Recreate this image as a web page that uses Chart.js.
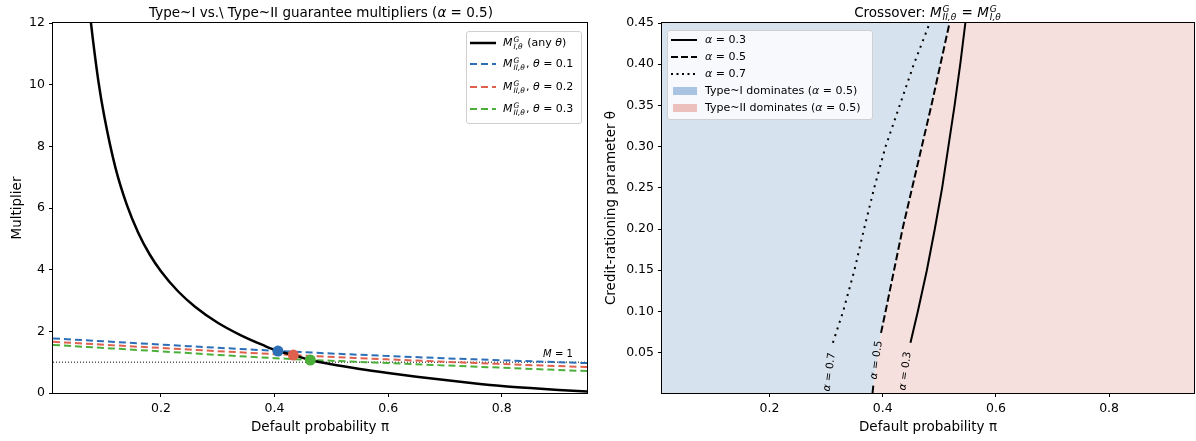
<!DOCTYPE html>
<html>
<head>
<meta charset="utf-8">
<script src="https://cdn.jsdelivr.net/npm/chart.js@4.4.1/dist/chart.umd.min.js"></script>
<style>
  html, body { margin: 0; padding: 0; background: #fff; }
  body { width: 1196px; height: 441px; position: relative; overflow: hidden;
         font-family: 'DejaVu Sans', sans-serif; color: #000; }
  .panel { position: absolute; top: 0; width: 598px; height: 441px; }
  .title { position: absolute; top: 4px; font-size: 13.5px; line-height: 16px; white-space: nowrap;
           transform: translateX(-50%); }
  .legend { position: absolute; box-sizing: border-box; background: rgba(255,255,255,0.8);
            border: 1px solid #d0d0d0; border-radius: 3px; font-size: 11px; }
  .row { position: absolute; left: 0; right: 0; height: 18px; }
  .row svg { position: absolute; left: 2px; top: 0; }
  .row .txt { position: absolute; top: 0; height: 18px; line-height: 18px; white-space: nowrap; }
  .ss { display: inline-flex; flex-direction: column; font-size: 7.5px; line-height: 7px;
        vertical-align: 4px; margin-left: 1px; margin-right: 1px; }
  .title .ss { font-size: 9px; line-height: 8px; vertical-align: 5px; }
  .ss span { font-style: italic; }
  .patch { position: absolute; left: 5px; top: 5px; width: 24px; height: 8px; }
</style>
</head>
<body>

<div class="panel" style="left:0"><canvas id="left" width="598" height="441"></canvas></div>
<div class="panel" style="left:598px"><canvas id="right" width="598" height="441"></canvas></div>

<div class="title" style="left:321px">Type~I vs.\ Type~II guarantee multipliers (<i>α</i> = 0.5)</div>
<div class="title" style="left:928px">Crossover: <i>M</i><span class="ss"><span>G</span><span>II,θ</span></span> = <i>M</i><span class="ss"><span>G</span><span>I,θ</span></span></div>

<div class="legend" style="left:466px; top:31px; width:116px; height:93px">
  <div class="row" style="top:2px">
    <svg width="30" height="18"><line x1="1" y1="9" x2="27" y2="9" stroke="#000" stroke-width="2.5"/></svg>
    <span class="txt" style="left:36px"><i>M</i><span class="ss"><span>G</span><span>I,θ</span></span> (any <i>θ</i>)</span>
  </div>
  <div class="row" style="top:23px">
    <svg width="30" height="18"><line x1="1" y1="9" x2="27" y2="9" stroke="#2c6fb7" stroke-width="2" stroke-dasharray="7,4"/></svg>
    <span class="txt" style="left:36px"><i>M</i><span class="ss"><span>G</span><span>II,θ</span></span>, <i>θ</i> = 0.1</span>
  </div>
  <div class="row" style="top:46px">
    <svg width="30" height="18"><line x1="1" y1="9" x2="27" y2="9" stroke="#e0604e" stroke-width="2" stroke-dasharray="7,4"/></svg>
    <span class="txt" style="left:36px"><i>M</i><span class="ss"><span>G</span><span>II,θ</span></span>, <i>θ</i> = 0.2</span>
  </div>
  <div class="row" style="top:68px">
    <svg width="30" height="18"><line x1="1" y1="9" x2="27" y2="9" stroke="#4caf3a" stroke-width="2" stroke-dasharray="7,4"/></svg>
    <span class="txt" style="left:36px"><i>M</i><span class="ss"><span>G</span><span>II,θ</span></span>, <i>θ</i> = 0.3</span>
  </div>
</div>

<div class="legend" style="left:667px; top:30px; width:206px; height:90px">
  <div class="row" style="top:0px">
    <svg width="30" height="18"><line x1="1" y1="9" x2="27" y2="9" stroke="#000" stroke-width="2"/></svg>
    <span class="txt" style="left:37px"><i>α</i> = 0.3</span>
  </div>
  <div class="row" style="top:17px">
    <svg width="30" height="18"><line x1="1" y1="9" x2="27" y2="9" stroke="#000" stroke-width="2" stroke-dasharray="7,3"/></svg>
    <span class="txt" style="left:37px"><i>α</i> = 0.5</span>
  </div>
  <div class="row" style="top:34px">
    <svg width="30" height="18"><line x1="1" y1="9" x2="27" y2="9" stroke="#000" stroke-width="2" stroke-dasharray="2,3.5"/></svg>
    <span class="txt" style="left:37px"><i>α</i> = 0.7</span>
  </div>
  <div class="row" style="top:51px">
    <div class="patch" style="background:#a9c4e2"></div>
    <span class="txt" style="left:37px">Type~I dominates (<i>α</i> = 0.5)</span>
  </div>
  <div class="row" style="top:68px">
    <div class="patch" style="background:#ecc0bd"></div>
    <span class="txt" style="left:37px">Type~II dominates (<i>α</i> = 0.5)</span>
  </div>
</div>

<script>
// ---------- left panel data ----------
const piTypeI = [0.075, 0.08, 0.09, 0.10, 0.12, 0.14, 0.16, 0.18, 0.20, 0.23, 0.26, 0.30, 0.34,
                 0.38, 0.406, 0.433, 0.463, 0.50, 0.55, 0.60, 0.65, 0.70, 0.75, 0.80, 0.85, 0.90, 0.95];
const mTypeI = [12.3, 11.5, 10.1, 9.0, 7.3, 6.1, 5.2, 4.5, 3.95, 3.3, 2.8, 2.28, 1.88,
                1.55, 1.36, 1.23, 1.07, 0.93, 0.78, 0.65, 0.53, 0.42, 0.32, 0.23, 0.16, 0.10, 0.05];
const piTypeII = [0.01, 0.2, 0.4, 0.6, 0.8, 0.95];
const mTheta01 = [1.77, 1.57, 1.37, 1.20, 1.06, 0.97];
const mTheta02 = [1.66, 1.46, 1.26, 1.09, 0.94, 0.84];
const mTheta03 = [1.56, 1.35, 1.13, 0.97, 0.82, 0.71];
const crossPi = [0.406, 0.433, 0.463];
const crossM  = [1.36, 1.23, 1.07];
const refPi = [0.01, 0.95];
const refM  = [1, 1];
const leftXTicks = [0.2, 0.4, 0.6, 0.8];
const leftYTicks = [0, 2, 4, 6, 8, 10, 12];

// ---------- right panel data ----------
const thetaA03 = [0.062, 0.10, 0.15, 0.20, 0.25, 0.30, 0.35, 0.40, 0.45];
const piA03    = [0.449, 0.462, 0.478, 0.492, 0.505, 0.516, 0.527, 0.537, 0.546];
const thetaA05 = [0.001, 0.014, null, 0.074, 0.10, 0.15, 0.20, 0.25, 0.30, 0.35, 0.40, 0.45];
const piA05    = [0.382, 0.384, null, 0.397, 0.405, 0.420, 0.435, 0.452, 0.469, 0.486, 0.502, 0.518];
const thetaA07 = [0.062, 0.10, 0.15, 0.20, 0.25, 0.30, 0.35, 0.40, 0.45];
const piA07    = [0.312, 0.330, 0.350, 0.367, 0.385, 0.405, 0.430, 0.455, 0.483];
const rightXTicks = [0.2, 0.4, 0.6, 0.8];
const rightYTicks = [0.05, 0.10, 0.15, 0.20, 0.25, 0.30, 0.35, 0.40, 0.45];
const contourLabels = ['0.7', '0.5', '0.3'];

const FONT = "'DejaVu Sans', sans-serif";
const pts = (xs, ys) => xs.map((x, i) => ({ x: x, y: ys[i] }));

// spine box around the plotting area
const framePlugin = {
  id: 'frame',
  afterDatasetsDraw(chart) {
    const { ctx, chartArea: a } = chart;
    ctx.save();
    ctx.strokeStyle = '#000';
    ctx.lineWidth = 1;
    ctx.strokeRect(Math.round(a.left) - 0.5, Math.round(a.top) - 0.5,
                   Math.round(a.right - a.left) + 1, Math.round(a.bottom - a.top) + 1);
    ctx.restore();
  }
};

// draws "α = v" / "M = 1" with an italic symbol
function mathText(ctx, sym, rest, size) {
  ctx.font = 'italic ' + size + 'px ' + FONT;
  const w1 = ctx.measureText(sym).width;
  ctx.font = size + 'px ' + FONT;
  const w2 = ctx.measureText(rest).width;
  return { w: w1 + w2, draw(x, y) {
    ctx.font = 'italic ' + size + 'px ' + FONT;
    ctx.fillText(sym, x, y);
    ctx.font = size + 'px ' + FONT;
    ctx.fillText(rest, x + w1, y);
  } };
}

const refLabelPlugin = {
  id: 'refLabel',
  afterDatasetsDraw(chart) {
    const { ctx, scales: { x, y } } = chart;
    ctx.save();
    ctx.fillStyle = '#000';
    ctx.textBaseline = 'alphabetic';
    ctx.textAlign = 'left';
    const t = mathText(ctx, 'M', ' = 1', 10);
    t.draw(x.getPixelForValue(0.925) - t.w, y.getPixelForValue(refM[0]) - 5);
    ctx.restore();
  }
};

const contourLabelPlugin = {
  id: 'contourLabel',
  afterDatasetsDraw(chart) {
    const { ctx, scales: { x, y } } = chart;
    const at = [[0.306, 0.0265], [0.389, 0.041], [0.440, 0.0277]];
    ctx.save();
    ctx.fillStyle = '#000';
    ctx.textBaseline = 'middle';
    ctx.textAlign = 'left';
    contourLabels.forEach((v, i) => {
      ctx.save();
      ctx.translate(x.getPixelForValue(at[i][0]), y.getPixelForValue(at[i][1]));
      ctx.rotate(-82 * Math.PI / 180);
      const t = mathText(ctx, 'α', ' = ' + v, 10.5);
      t.draw(-t.w / 2, 0);
      ctx.restore();
    });
    ctx.restore();
  }
};

function axisX(ticks, title, tickFmt) {
  return {
    type: 'linear', min: 0.01, max: 0.95,
    afterBuildTicks: s => { s.ticks = ticks.map(v => ({ value: v })); },
    afterFit: s => { s.height = 48; },
    grid: { display: true, drawOnChartArea: false, drawTicks: true, tickLength: 4, color: '#000' },
    border: { display: false },
    ticks: { color: '#000', padding: 4, maxRotation: 0, font: { family: FONT, size: 12.5 }, callback: tickFmt },
    title: { display: true, text: title, color: '#000', font: { family: FONT, size: 13.5 },
             padding: { top: 0, bottom: 5 } }
  };
}

function axisY(min, max, ticks, width, title, titlePad, tickFmt) {
  return {
    type: 'linear', min: min, max: max,
    afterBuildTicks: s => { s.ticks = ticks.map(v => ({ value: v })); },
    afterFit: s => { s.width = width; },
    grid: { display: true, drawOnChartArea: false, drawTicks: true, tickLength: 4, color: '#000' },
    border: { display: false },
    ticks: { color: '#000', padding: 4, font: { family: FONT, size: 12.5 }, callback: tickFmt },
    title: { display: true, text: title, color: '#000', font: { family: FONT, size: 13.5 },
             padding: { top: titlePad, bottom: 0 } }
  };
}

const common = {
  responsive: false,
  animation: false,
  events: [],
  devicePixelRatio: 1,
  plugins: { legend: { display: false }, tooltip: { enabled: false }, title: { display: false } }
};

const dashed = (data, color, order) => ({
  data: data, borderColor: color, borderWidth: 2, borderDash: [7, 4],
  pointRadius: 0, fill: false, cubicInterpolationMode: 'monotone', order: order
});

new Chart(document.getElementById('left'), {
  type: 'line',
  data: {
    datasets: [
      { data: pts(crossPi, crossM), showLine: false, pointRadius: 5.5, pointBorderWidth: 0,
        pointBackgroundColor: ['#2c6fb7', '#e0604e', '#4caf3a'], order: 0 },
      { data: pts(piTypeI, mTypeI), borderColor: '#000', borderWidth: 2.5, pointRadius: 0,
        fill: false, cubicInterpolationMode: 'monotone', order: 1 },
      dashed(pts(piTypeII, mTheta01), '#2c6fb7', 2),
      dashed(pts(piTypeII, mTheta02), '#e0604e', 3),
      dashed(pts(piTypeII, mTheta03), '#4caf3a', 4),
      { data: pts(refPi, refM), borderColor: '#000', borderWidth: 1, borderDash: [1, 2],
        pointRadius: 0, fill: false, order: 5 }
    ]
  },
  options: Object.assign({}, common, {
    layout: { padding: { top: 23, right: 11, left: 0, bottom: 0 } },
    scales: {
      x: axisX(leftXTicks, 'Default probability π', v => v.toFixed(1)),
      y: axisY(0, 12, leftYTicks, 53, 'Multiplier', 9, v => String(v))
    }
  }),
  plugins: [framePlugin, refLabelPlugin]
});

const boundary = [{ x: 0.01, y: 0.001 }]
  .concat(pts(piA05, thetaA05).filter(p => p.y !== null))
  .concat([{ x: 0.95, y: 0.45 }]);

new Chart(document.getElementById('right'), {
  type: 'line',
  data: {
    datasets: [
      { data: pts(piA03, thetaA03), borderColor: '#000', borderWidth: 2, pointRadius: 0,
        fill: false, order: 1 },
      { data: pts(piA05, thetaA05), borderColor: '#000', borderWidth: 2, borderDash: [7.4, 3.2],
        pointRadius: 0, fill: false, spanGaps: false, order: 2 },
      { data: pts(piA07, thetaA07), borderColor: '#000', borderWidth: 2, borderDash: [2, 5],
        pointRadius: 0, fill: false, order: 3 },
      { data: boundary, borderWidth: 0, borderColor: 'rgba(0,0,0,0)', pointRadius: 0,
        fill: 'end', backgroundColor: '#d6e2ee', order: 10 },
      { data: boundary, borderWidth: 0, borderColor: 'rgba(0,0,0,0)', pointRadius: 0,
        fill: 'start', backgroundColor: '#f6e0de', order: 11 }
    ]
  },
  options: Object.assign({}, common, {
    layout: { padding: { top: 23, right: 2, left: 0, bottom: 0 } },
    scales: {
      x: axisX(rightXTicks, 'Default probability π', v => v.toFixed(1)),
      y: axisY(0.001, 0.45, rightYTicks, 64, 'Credit-rationing parameter θ', 5, v => v.toFixed(2))
    }
  }),
  plugins: [framePlugin, contourLabelPlugin]
});
</script>
</body>
</html>
